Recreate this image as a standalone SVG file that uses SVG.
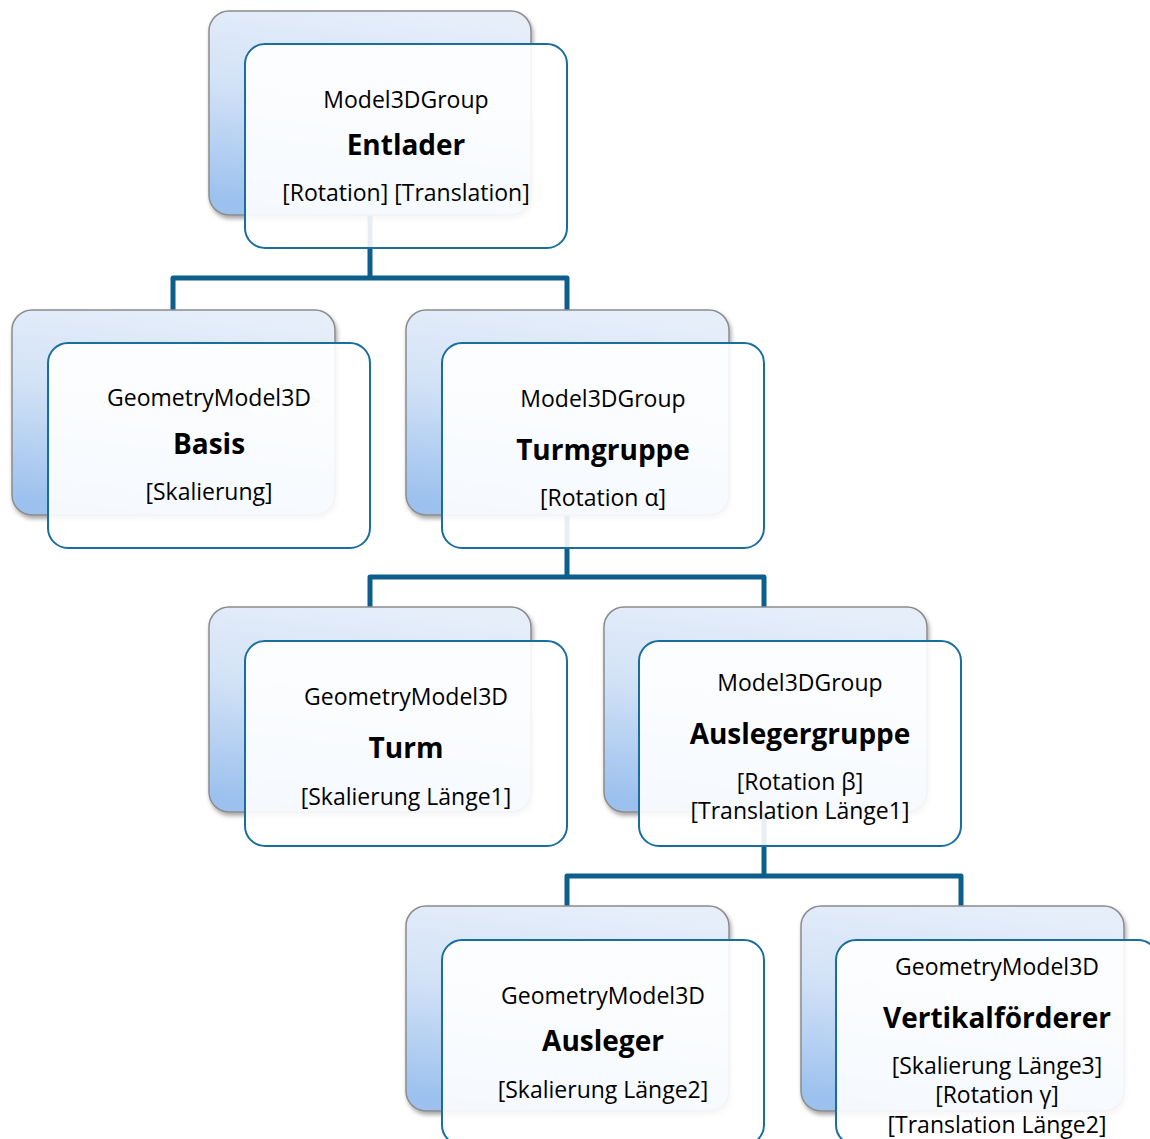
<svg xmlns="http://www.w3.org/2000/svg" width="1150" height="1139" viewBox="0 0 1150 1139">
  <defs>
    <linearGradient id="backFill" x1="0.6" y1="0" x2="0.4" y2="1">
      <stop offset="0" stop-color="#e6eefa"/>
      <stop offset="0.45" stop-color="#d2e2f6"/>
      <stop offset="1" stop-color="#9cc1ee"/>
    </linearGradient>
    <filter id="shadow" x="-10%" y="-10%" width="125%" height="130%">
      <feDropShadow dx="1.5" dy="3" stdDeviation="2.2" flood-color="#000" flood-opacity="0.35"/>
    </filter>
  </defs>
  <style>
    .back { fill: url(#backFill); stroke: #8c8c8c; stroke-width: 1.5; filter: url(#shadow); }
    .front { fill: #ffffff; fill-opacity: 0.9; stroke: #1a6e9e; stroke-width: 2; }
    .conn { fill: none; stroke: #0c5f8c; stroke-width: 5; stroke-linejoin: round; }
    text { font-family: "Open Sans", "Noto Sans", sans-serif; fill: #000; text-anchor: middle; }
    .type { font-size: 23px; }
    .name { font-size: 28px; font-weight: bold; }
    .prop { font-size: 23px; }
  </style>
  <rect width="1150" height="1139" fill="#ffffff"/>

  <!-- tree connectors, drawn beneath the nodes -->
  <g id="connectors">
    <path class="conn" d="M370,200 V278 M173,310 V278 H567 V310"/>
    <path class="conn" d="M567,500 V577 M370,607 V577 H764 V607"/>
    <path class="conn" d="M764,800 V876 M567,906 V876 H961 V906"/>
  </g>

  <g id="entlader">
    <rect class="back" x="209" y="11" width="322" height="204" rx="20"/>
    <rect class="front" x="245" y="44" width="322" height="204" rx="20"/>
    <text class="type" x="406" y="108">Model3DGroup</text>
    <text class="name" x="406" y="155">Entlader</text>
    <text class="prop" x="406" y="201">[Rotation] [Translation]</text>
  </g>

  <g id="basis">
    <rect class="back" x="12" y="310" width="323" height="205" rx="20"/>
    <rect class="front" x="48" y="343" width="322" height="205" rx="20"/>
    <text class="type" x="209" y="406">GeometryModel3D</text>
    <text class="name" x="209" y="454">Basis</text>
    <text class="prop" x="209" y="500">[Skalierung]</text>
  </g>

  <g id="turmgruppe">
    <rect class="back" x="406" y="310" width="323" height="205" rx="20"/>
    <rect class="front" x="442" y="343" width="322" height="205" rx="20"/>
    <text class="type" x="603" y="407">Model3DGroup</text>
    <text class="name" x="603" y="460">Turmgruppe</text>
    <text class="prop" x="603" y="506">[Rotation α]</text>
  </g>

  <g id="turm">
    <rect class="back" x="209" y="607" width="322" height="205" rx="20"/>
    <rect class="front" x="245" y="641" width="322" height="205" rx="20"/>
    <text class="type" x="406" y="705">GeometryModel3D</text>
    <text class="name" x="406" y="758">Turm</text>
    <text class="prop" x="406" y="805">[Skalierung Länge1]</text>
  </g>

  <g id="auslegergruppe">
    <rect class="back" x="604" y="607" width="323" height="205" rx="20"/>
    <rect class="front" x="639" y="641" width="322" height="205" rx="20"/>
    <text class="type" x="800" y="691">Model3DGroup</text>
    <text class="name" x="800" y="744">Auslegergruppe</text>
    <text class="prop" x="800" y="790">[Rotation β]</text>
    <text class="prop" x="800" y="819">[Translation Länge1]</text>
  </g>

  <g id="ausleger">
    <rect class="back" x="406" y="906" width="323" height="205" rx="20"/>
    <rect class="front" x="442" y="940" width="322" height="205" rx="20"/>
    <text class="type" x="603" y="1004">GeometryModel3D</text>
    <text class="name" x="603" y="1051">Ausleger</text>
    <text class="prop" x="603" y="1098">[Skalierung Länge2]</text>
  </g>

  <g id="vertikalfoerderer">
    <rect class="back" x="801" y="906" width="323" height="205" rx="20"/>
    <rect class="front" x="836" y="940" width="322" height="205" rx="20"/>
    <text class="type" x="997" y="975">GeometryModel3D</text>
    <text class="name" x="997" y="1028">Vertikalförderer</text>
    <text class="prop" x="997" y="1074">[Skalierung Länge3]</text>
    <text class="prop" x="997" y="1103">[Rotation γ]</text>
    <text class="prop" x="997" y="1133">[Translation Länge2]</text>
  </g>
</svg>
